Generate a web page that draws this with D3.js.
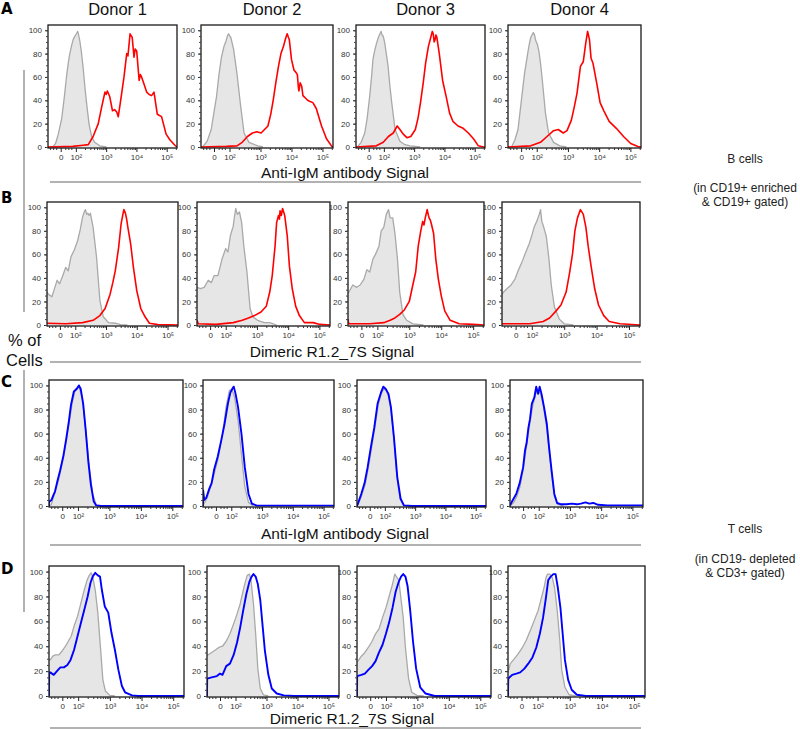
<!DOCTYPE html>
<html><head><meta charset="utf-8">
<script src="https://cdn.jsdelivr.net/npm/d3@7"></script>
<style>body{margin:0;background:#fff}svg{display:block}</style>
</head><body>
<svg id="c" width="800" height="729"></svg>
<script>
// ---------- labels ----------
const donors = ["Donor 1", "Donor 2", "Donor 3", "Donor 4"];
const rowLetters = ["A", "B", "C", "D"];
const rowTitles = ["Anti-IgM antibody Signal", "Dimeric R1.2_7S Signal", "Anti-IgM antibody Signal", "Dimeric R1.2_7S Signal"];
const xTickValues = [1.5, 2, 3, 4, 5];           // channel position (decades); 1.5 = "0"
const xTickLabels = ["0", "10²", "10³", "10⁴", "10⁵"];
const yTickValues = [0, 20, 40, 60, 80, 100];
const xDomain = [1.08, 5.34];

// ---------- data: [channel position (decades), % of max] ----------
// Row A: Anti-IgM, B cells
const a1Gray = [[1.08,0],[1.25,0.5],[1.33,3],[1.42,11],[1.53,24],[1.62,43],[1.69,60],[1.75,72],[1.80,80],[1.86,87],[1.91,92],[1.97,95],[2.02,97],[2.06,99],[2.09,96],[2.13,91],[2.18,82],[2.24,68],[2.30,51],[2.37,34],[2.44,19],[2.52,9],[2.62,4],[2.79,1],[3.01,0]];
const a1Red = [[1.08,0],[1.9,0.5],[2.24,1.5],[2.41,2],[2.57,9],[2.74,20],[2.85,34],[2.96,47],[3.0,45],[3.04,48],[3.12,43],[3.21,31],[3.28,32],[3.35,30],[3.40,26],[3.48,40],[3.59,60],[3.68,80],[3.72,78],[3.79,97],[3.83,95],[3.86,94],[3.92,77],[3.96,84],[4.01,82],[4.09,57],[4.13,62],[4.17,60],[4.25,54],[4.34,47],[4.42,45],[4.50,44],[4.58,47],[4.69,28],[4.76,27],[4.83,26],[4.98,11],[5.11,6],[5.27,1.5],[5.34,0]];
const a2Gray = [[1.08,0],[1.13,0],[1.28,5],[1.41,15],[1.50,30],[1.58,43],[1.66,62],[1.74,77],[1.82,86],[1.89,91],[1.93,95],[1.97,97],[2.01,95],[2.04,94],[2.13,84],[2.24,63],[2.36,35],[2.47,12],[2.63,4],[2.91,1],[3.08,0]];
const a2Red = [[1.08,0],[1.9,0.5],[2.24,1],[2.41,4],[2.58,9],[2.74,12],[2.88,13],[3.02,12],[3.13,15],[3.24,18],[3.33,28],[3.41,40],[3.50,56],[3.58,69],[3.66,80],[3.74,86],[3.81,93],[3.86,97],[3.90,94],[3.93,92],[4.0,75],[4.08,66],[4.14,64],[4.19,62],[4.22,52],[4.24,48],[4.28,55],[4.33,52],[4.37,44],[4.41,43],[4.52,40],[4.60,39],[4.69,38],[4.80,33],[4.97,18],[5.13,7],[5.30,0.5],[5.34,0]];
const a3Gray = [[1.08,0],[1.14,0.5],[1.25,4],[1.37,12],[1.45,25],[1.53,43],[1.60,62],[1.64,75],[1.70,83],[1.76,89],[1.82,94],[1.87,97],[1.91,99],[1.94,96],[1.98,95],[2.03,89],[2.08,80],[2.14,69],[2.20,52],[2.26,38],[2.37,15],[2.53,5],[2.7,2],[2.87,1],[3.2,0]];
const a3Red = [[1.08,0],[1.75,1],[1.98,4],[2.15,9],[2.31,12],[2.44,18],[2.53,15],[2.64,11],[2.76,8],[2.89,9],[3.04,15],[3.13,25],[3.21,38],[3.30,55],[3.38,72],[3.47,86],[3.55,94],[3.60,99],[3.63,97],[3.66,90],[3.69,92],[3.72,96],[3.75,94],[3.83,80],[3.94,57],[4.06,43],[4.17,29],[4.28,22],[4.45,18],[4.62,16],[4.79,12],[4.96,7],[5.12,1],[5.29,0],[5.34,0]];
const a4Gray = [[1.08,0],[1.2,0.5],[1.3,6],[1.4,15],[1.5,38],[1.61,63],[1.71,80],[1.76,88],[1.81,94],[1.89,98],[1.93,96],[1.97,91],[2.02,88],[2.07,82],[2.12,72],[2.18,57],[2.28,29],[2.38,12],[2.54,4],[2.74,1],[2.95,0]];
const a4Red = [[1.08,0],[1.81,1],[2.12,4],[2.33,9],[2.54,14],[2.69,15],[2.85,12],[2.97,14],[3.11,23],[3.20,34],[3.29,46],[3.40,69],[3.49,73],[3.57,89],[3.63,99],[3.69,92],[3.74,76],[3.80,72],[3.92,55],[4.03,38],[4.15,31],[4.32,22],[4.55,16],[4.78,9],[5.01,3],[5.24,0.5],[5.34,0]];
// Row B: Dimeric R1.2_7S, B cells
const b1Gray = [[1.08,28],[1.13,26],[1.24,24],[1.30,29],[1.41,38],[1.49,35],[1.58,41],[1.69,49],[1.77,46],[1.86,58],[1.97,64],[2.08,72],[2.16,81],[2.24,92],[2.29,96],[2.33,98],[2.37,94],[2.41,95],[2.45,93],[2.49,95],[2.58,83],[2.69,58],[2.80,21],[2.91,7],[3.08,2],[3.3,1.5],[3.47,0.3],[3.69,0]];
const b1Red = [[1.08,1.5],[1.69,1],[2.24,2],[2.58,4],[2.80,8],[2.97,14],[3.13,26],[3.22,36],[3.30,46],[3.41,66],[3.49,86],[3.54,93],[3.58,98],[3.63,95],[3.67,90],[3.71,83],[3.80,69],[3.89,49],[4.0,29],[4.13,14],[4.27,7],[4.41,1.5],[4.69,0.3],[5.34,0]];
const b2Gray = [[1.08,32],[1.19,31],[1.31,32],[1.44,38],[1.54,36],[1.63,42],[1.75,42],[1.88,56],[2.0,65],[2.07,62],[2.15,76],[2.24,84],[2.28,92],[2.32,99],[2.37,94],[2.44,96],[2.51,87],[2.58,67],[2.68,45],[2.78,14],[2.87,7],[3.02,4],[3.24,2],[3.41,2],[3.63,0]];
const b2Red = [[1.08,4],[1.12,1],[1.69,0.5],[2.24,2],[2.53,4],[2.73,6],[2.92,8],[3.13,11],[3.30,16],[3.41,28],[3.49,42],[3.58,67],[3.63,87],[3.69,93],[3.72,90],[3.74,97],[3.78,93],[3.82,99],[3.89,93],[3.97,76],[4.04,50],[4.13,31],[4.24,16],[4.36,8],[4.52,2],[4.8,2],[5.02,0.5],[5.34,0]];
const b3Gray = [[1.08,27],[1.11,28],[1.23,34],[1.35,32],[1.46,34],[1.58,39],[1.67,47],[1.76,45],[1.86,56],[1.94,60],[2.05,67],[2.12,80],[2.20,83],[2.28,94],[2.35,98],[2.40,91],[2.48,91],[2.55,78],[2.63,56],[2.70,28],[2.80,9],[2.92,4],[3.11,1],[3.44,0]];
const b3Red = [[1.08,5],[1.10,1],[1.76,1],[2.2,2],[2.4,4],[2.55,6],[2.7,9],[2.85,13],[3.0,20],[3.11,34],[3.20,45],[3.28,67],[3.36,80],[3.42,88],[3.46,85],[3.50,91],[3.56,98],[3.60,93],[3.62,91],[3.66,89],[3.69,86],[3.76,78],[3.83,56],[3.91,39],[4.0,25],[4.11,12],[4.28,4],[4.56,1],[5.0,0.5],[5.34,0]];
const b4Gray = [[1.08,26],[1.13,28],[1.24,31],[1.36,34],[1.48,39],[1.59,47],[1.69,53],[1.80,61],[1.92,69],[2.0,76],[2.07,83],[2.15,88],[2.23,94],[2.27,98],[2.31,88],[2.37,83],[2.45,75],[2.53,56],[2.60,34],[2.70,15],[2.85,5],[3.0,1],[3.28,0]];
const b4Red = [[1.08,1],[1.94,1],[2.35,3],[2.55,6],[2.75,12],[2.90,17],[3.06,28],[3.17,45],[3.26,61],[3.33,80],[3.41,91],[3.50,98],[3.59,94],[3.67,83],[3.74,67],[3.83,50],[3.94,31],[4.06,17],[4.22,8],[4.39,3],[4.72,1],[5.34,0]];
// Row C: Anti-IgM, T cells
const c1Gray = [[1.08,0],[1.15,1],[1.22,7],[1.38,21],[1.54,40],[1.71,67],[1.82,86],[1.92,97],[2.03,99],[2.14,89],[2.25,62],[2.36,32],[2.47,10],[2.58,1],[2.74,0]];
const c1Blue = [[1.08,0],[1.085,4],[1.11,4],[1.16,5],[1.22,9],[1.27,12],[1.35,21],[1.43,29],[1.54,42],[1.63,56],[1.71,70],[1.78,84],[1.87,95],[1.96,97],[2.03,100],[2.09,97],[2.17,84],[2.25,62],[2.33,37],[2.41,18],[2.50,4],[2.58,0.5],[2.74,0],[5.34,0]];
const c2Gray = [[1.08,0],[1.11,2],[1.22,7],[1.39,21],[1.56,38],[1.72,60],[1.83,82],[1.94,96],[2.03,96],[2.11,90],[2.22,71],[2.33,43],[2.44,16],[2.56,3],[2.72,0]];
const c2Blue = [[1.08,0],[1.085,13],[1.12,5],[1.19,7],[1.28,14],[1.36,19],[1.44,30],[1.56,41],[1.67,54],[1.78,68],[1.89,85],[1.97,94],[2.03,97],[2.08,99],[2.14,93],[2.22,82],[2.33,60],[2.44,32],[2.56,10],[2.67,2],[2.83,0.3],[5.34,0.3]];
const c3Gray = [[1.08,0],[1.13,2],[1.24,9],[1.35,18],[1.45,31],[1.56,48],[1.67,65],[1.78,84],[1.88,93],[1.96,97],[2.04,96],[2.12,91],[2.2,80],[2.3,55],[2.4,24],[2.5,6],[2.62,0.5],[2.85,0]];
const c3Blue = [[1.08,0],[1.11,2],[1.22,10],[1.33,19],[1.43,32],[1.54,49],[1.65,65],[1.76,85],[1.87,94],[1.95,99],[2.03,97],[2.12,93],[2.2,82],[2.3,57],[2.41,24],[2.52,6],[2.63,0.5],[2.9,0],[5.34,0]];
const c4Gray = [[1.08,0],[1.2,3],[1.3,8],[1.4,16],[1.5,30],[1.6,48],[1.7,66],[1.8,82],[1.9,93],[1.98,96],[2.06,93],[2.15,83],[2.25,66],[2.33,47],[2.41,27],[2.5,8],[2.6,1.5],[2.8,0]];
const c4Blue = [[1.08,0.5],[1.17,5],[1.28,10],[1.39,19],[1.5,32],[1.56,46],[1.61,52],[1.67,65],[1.72,72],[1.78,85],[1.86,90],[1.92,99],[1.98,93],[2.03,99],[2.09,93],[2.17,82],[2.26,68],[2.33,49],[2.41,30],[2.5,10],[2.59,2.5],[2.72,1.4],[2.89,1.4],[3.06,2],[3.22,1.4],[3.35,2],[3.5,3],[3.62,2],[3.75,2.5],[3.9,1],[4.2,0.5],[5.34,0.5]];
// Row D: Dimeric R1.2_7S, T cells
const d1Gray = [[1.08,29],[1.12,29],[1.2,32],[1.28,33],[1.39,33],[1.49,36],[1.6,40],[1.71,45],[1.78,48],[1.87,56],[1.98,64],[2.09,75],[2.19,85],[2.28,93],[2.35,97],[2.41,99],[2.46,96],[2.54,85],[2.62,67],[2.71,37],[2.78,13],[2.86,4],[3.0,0.5],[3.16,0]];
const d1Blue = [[1.08,0],[1.085,19],[1.12,19],[1.23,17],[1.33,20],[1.44,23],[1.55,23],[1.66,25],[1.76,29],[1.87,37],[1.98,48],[2.09,59],[2.19,69],[2.3,80],[2.39,91],[2.46,96],[2.54,99],[2.62,97],[2.69,96],[2.75,85],[2.84,72],[2.95,67],[3.05,51],[3.16,37],[3.27,21],[3.38,8],[3.48,3],[3.7,0.5],[3.9,0],[5.34,0]];
const d2Gray = [[1.08,33],[1.11,33],[1.23,35],[1.35,37],[1.46,39],[1.58,40],[1.7,44],[1.82,50],[1.94,58],[2.05,66],[2.15,74],[2.25,85],[2.32,92],[2.38,97],[2.45,98],[2.5,93],[2.58,74],[2.65,50],[2.72,22],[2.8,6],[2.9,1],[3.06,0]];
const d2Blue = [[1.08,0],[1.085,14],[1.23,15],[1.4,16],[1.5,18],[1.58,17],[1.7,24],[1.82,26],[1.94,33],[2.05,43],[2.15,55],[2.25,69],[2.35,82],[2.45,92],[2.52,96],[2.58,98],[2.65,96],[2.72,90],[2.8,77],[2.88,55],[2.95,36],[3.06,17],[3.17,6],[3.33,2],[3.56,0.5],[3.89,0],[5.34,0]];
const d3Gray = [[1.08,28],[1.11,28],[1.22,32],[1.33,35],[1.44,39],[1.56,44],[1.67,50],[1.78,54],[1.89,63],[2.0,71],[2.1,80],[2.21,90],[2.28,98],[2.36,95],[2.41,93],[2.46,82],[2.55,63],[2.62,39],[2.72,14],[2.82,3],[2.98,0.5],[3.2,0]];
const d3Blue = [[1.08,0],[1.085,16],[1.22,17],[1.33,18],[1.44,21],[1.56,24],[1.67,28],[1.78,35],[1.89,41],[2.0,50],[2.1,59],[2.21,71],[2.31,84],[2.41,92],[2.48,96],[2.55,98],[2.62,96],[2.69,88],[2.77,69],[2.86,44],[2.96,22],[3.09,7],[3.26,2],[3.55,0],[5.34,0]];
const d4Gray = [[1.08,19],[1.15,26],[1.28,30],[1.4,34],[1.53,39],[1.65,45],[1.78,53],[1.9,61],[2.02,69],[2.12,79],[2.2,87],[2.26,95],[2.31,98],[2.38,98],[2.46,95],[2.53,87],[2.61,69],[2.69,45],[2.75,21],[2.85,7],[2.98,1],[3.19,0]];
const d4Blue = [[1.08,0],[1.085,11],[1.09,14],[1.21,17],[1.34,18],[1.46,19],[1.59,22],[1.71,26],[1.84,31],[1.96,39],[2.07,50],[2.17,63],[2.26,79],[2.33,93],[2.41,96],[2.49,98],[2.56,98],[2.63,87],[2.71,71],[2.78,50],[2.85,29],[2.95,13],[3.06,5],[3.22,1],[3.5,0],[5.34,0]];

const grayData = [[a1Gray,a2Gray,a3Gray,a4Gray],[b1Gray,b2Gray,b3Gray,b4Gray],[c1Gray,c2Gray,c3Gray,c4Gray],[d1Gray,d2Gray,d3Gray,d4Gray]];
const stainData = [[a1Red,a2Red,a3Red,a4Red],[b1Red,b2Red,b3Red,b4Red],[c1Blue,c2Blue,c3Blue,c4Blue],[d1Blue,d2Blue,d3Blue,d4Blue]];

// ---------- layout ----------
const rows = [
  {top:25,  bottom:148, cols:[[48,177],[201,333],[356,485],[508,641]], color:"#ff0000", titleX:345, titleY:178, lineY:182, letterY:14},
  {top:202, bottom:326, cols:[[47,178],[197,330],[348,484],[502,640]], color:"#ff0000", titleX:332, titleY:357, lineY:362, letterY:203},
  {top:380, bottom:507, cols:[[49,183],[203,334],[357,486],[510,643]], color:"#0000ff", titleX:345, titleY:539, lineY:545, letterY:387},
  {top:566, bottom:697, cols:[[49,184],[207,339],[357,491],[508,645]], color:"#0000ff", titleX:352, titleY:724, lineY:728, letterY:574}
];

const FONT = "'Liberation Sans', Arial, Helvetica, sans-serif";
const svg = d3.select("#c").style("font-family", FONT);
const defs = svg.append("defs");

// minor x ticks (log spacing)
const xMinor = [];
[2,3,4].forEach(dec => { for (let k = 2; k <= 9; k++) xMinor.push(dec + Math.log10(k)); });
xMinor.push(5 + Math.log10(2));
[1.15, 1.25, 1.35, 1.65, 1.75, 1.85].forEach(v => xMinor.push(v));
const yMinor = d3.range(0, 105, 5);

// donors header
rows[0].cols.forEach(([l, r], i) => {
  svg.append("text").attr("x", (l + r) / 2 + 5).attr("y", 15)
    .attr("text-anchor", "middle").attr("font-size", 16.5).attr("fill", "#111").text(donors[i]);
});

rows.forEach((row, ri) => {
  // panel letter
  svg.append("text").attr("x", 1).attr("y", row.letterY).attr("font-size", 15)
    .attr("font-family", "'DejaVu Sans', sans-serif")
    .attr("font-weight", "bold").attr("fill", "#000").text(rowLetters[ri]);
  // row title and separator
  svg.append("text").attr("x", row.titleX).attr("y", row.titleY).attr("text-anchor", "middle")
    .attr("font-size", 15.5).attr("fill", "#111").text(rowTitles[ri]);
  svg.append("line").attr("x1", 50).attr("x2", 641).attr("y1", row.lineY).attr("y2", row.lineY)
    .attr("stroke", "#999").attr("stroke-width", 1.5);

  row.cols.forEach(([l, r], ci) => {
    const x = d3.scaleLinear().domain(xDomain).range([l, r]);
    const y = d3.scaleLinear().domain([0, 104.5]).range([row.bottom - 1, row.top]);
    const id = `clip${ri}${ci}`;
    defs.append("clipPath").attr("id", id).append("rect")
      .attr("x", l).attr("y", row.top).attr("width", r - l).attr("height", row.bottom - row.top);
    const g = svg.append("g");
    const area = d3.area().x(d => x(d[0])).y0(y(0)).y1(d => y(d[1]));
    const line = d3.line().x(d => x(d[0])).y(d => y(d[1]));
    const gd = grayData[ri][ci];
    const sd = stainData[ri][ci];
    const plot = g.append("g").attr("clip-path", `url(#${id})`);
    plot.append("path").datum(gd).attr("d", area).attr("fill", "#e6e6e6").attr("stroke", "none");
    plot.append("path").datum(gd).attr("d", line).attr("fill", "none")
      .attr("stroke", "#a9a9a9").attr("stroke-width", 1.3).attr("stroke-linejoin", "round");
    plot.append("path").datum(sd).attr("d", line).attr("fill", "none")
      .attr("stroke", row.color).attr("stroke-width", ri < 2 ? 1.6 : 1.9).attr("stroke-linejoin", "round");
    // frame
    g.append("rect").attr("x", l).attr("y", row.top).attr("width", r - l).attr("height", row.bottom - row.top)
      .attr("fill", "none").attr("stroke", "#1a1a1a").attr("stroke-width", 1.3);

    // x axis
    const xa = g.append("g").attr("transform", `translate(0,${row.bottom})`)
      .call(d3.axisBottom(x).tickValues(xTickValues).tickSize(4).tickPadding(2)
        .tickFormat((d, i) => xTickLabels[i]));
    xa.select(".domain").remove();
    xa.selectAll("text").attr("font-size", 8).attr("fill", "#333").attr("font-family", FONT);
    xa.selectAll("line").attr("stroke", "#222");
    const xm = g.append("g").attr("transform", `translate(0,${row.bottom})`)
      .call(d3.axisBottom(x).tickValues(xMinor).tickSize(2).tickFormat(""));
    xm.select(".domain").remove();
    xm.selectAll("line").attr("stroke", "#333");

    // y axis
    const ya = g.append("g").attr("transform", `translate(${l},0)`)
      .call(d3.axisLeft(y).tickValues(yTickValues).tickSize(3).tickPadding(3));
    ya.select(".domain").remove();
    ya.selectAll("text").attr("font-size", 8).attr("fill", "#333").attr("font-family", FONT);
    ya.selectAll("line").attr("stroke", "#222");
    const ym = g.append("g").attr("transform", `translate(${l},0)`)
      .call(d3.axisLeft(y).tickValues(yMinor).tickSize(2).tickFormat(""));
    ym.select(".domain").remove();
    ym.selectAll("line").attr("stroke", "#444");
  });
});

// left bracket lines and y label
svg.append("line").attr("x1", 24).attr("x2", 24).attr("y1", 70).attr("y2", 312).attr("stroke", "#999").attr("stroke-width", 1.5);
svg.append("line").attr("x1", 24).attr("x2", 24).attr("y1", 370).attr("y2", 612).attr("stroke", "#999").attr("stroke-width", 1.5);
svg.append("text").attr("x", 8).attr("y", 346).attr("font-size", 16.5).attr("fill", "#111").text("% of");
svg.append("text").attr("x", 6).attr("y", 366).attr("font-size", 16.5).attr("fill", "#111").text("Cells");

// right annotations
const rightNotes = [
  {y: 163, t: "B cells"}, {y: 192, t: "(in CD19+ enriched"}, {y: 206, t: "& CD19+ gated)"},
  {y: 533, t: "T cells"}, {y: 563, t: "(in CD19- depleted"}, {y: 577, t: "& CD3+ gated)"}
];
rightNotes.forEach(n => svg.append("text").attr("x", 745).attr("y", n.y).attr("text-anchor", "middle")
  .attr("font-size", 12).attr("fill", "#222").text(n.t));
</script>
</body></html>
